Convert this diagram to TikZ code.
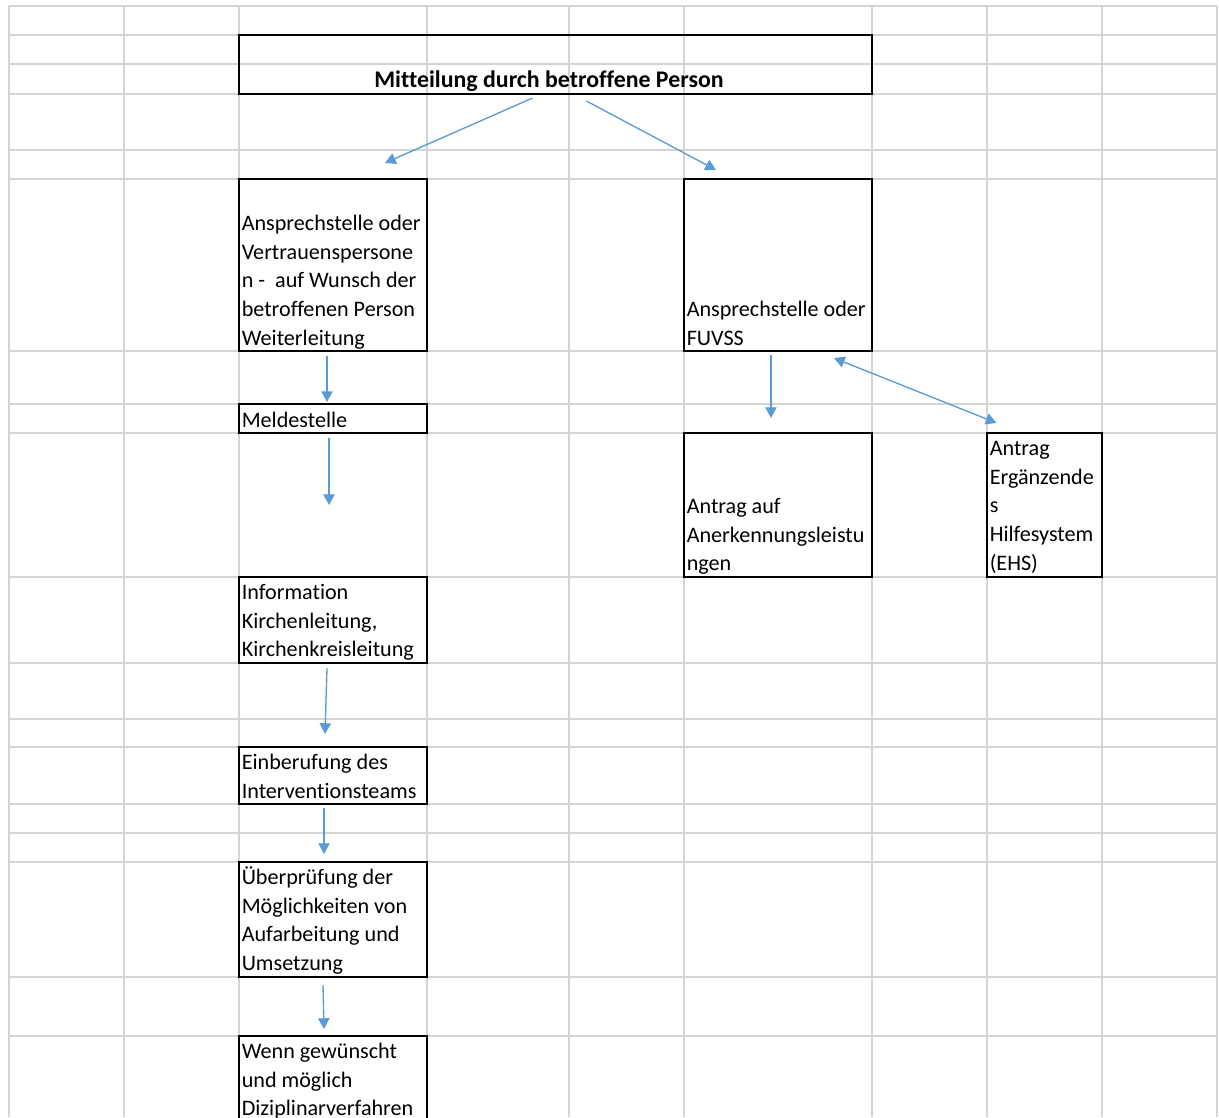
\documentclass[tikz,border=0pt]{standalone}
\usepackage{fontspec}
\setmainfont{Carlito}[Ligatures={NoCommon,NoRequired,NoContextual}]
\usetikzlibrary{arrows.meta,calc}

\definecolor{pfeilblau}{HTML}{5B9BD5}
\definecolor{gitterfarbe}{HTML}{D4D4D4}

\tikzset{
  gitter/.style={draw=gitterfarbe, line width=1.5pt},
  kasten/.style={draw=black, line width=1.6pt, inner sep=0pt},
  txt/.style={font=\fontsize{16.6}{21.5}\selectfont, inner sep=0pt, align=left, anchor=north west},
  pfeil/.style={draw=pfeilblau, line width=1pt, -{Triangle[length=8pt,width=8.5pt]}},
}

\begin{document}
\begin{tikzpicture}[x=0.75pt,y=-0.75pt]
\clip (0,0) rectangle (1219,1117);
\fill[white] (0,0) rectangle (1219,1117);

% Tabellengitter
\draw[gitter] (9,6) -- (9,1117) (124,6) -- (124,1117) (239,6) -- (239,1117)
  (427,6) -- (427,1117) (569,6) -- (569,1117) (684,6) -- (684,1117)
  (872,6) -- (872,1117) (987,6) -- (987,1117) (1102,6) -- (1102,1117)
  (1217,6) -- (1217,1117);
\draw[gitter] (9,6) -- (1217,6) (9,35) -- (1217,35) (9,64) -- (1217,64)
  (9,94) -- (1217,94) (9,150) -- (1217,150) (9,179) -- (1217,179)
  (9,351) -- (1217,351) (9,404) -- (1217,404) (9,433) -- (1217,433)
  (9,577) -- (1217,577) (9,663) -- (1217,663) (9,719) -- (1217,719)
  (9,747) -- (1217,747) (9,804) -- (1217,804) (9,833) -- (1217,833)
  (9,862) -- (1217,862) (9,977) -- (1217,977) (9,1036) -- (1217,1036);

% Kaesten
\node[kasten, minimum width=474.75pt, minimum height=44.25pt] (mitteilung) at (555.5,64.5) {};
\node[kasten, minimum width=141pt, minimum height=129pt] (ansprech) at (333,265) {};
\node[kasten, minimum width=141pt, minimum height=21.75pt] (melde) at (333,418.5) {};
\node[kasten, minimum width=141pt, minimum height=64.5pt] (info) at (333,620) {};
\node[kasten, minimum width=141pt, minimum height=42.75pt] (einberufung) at (333,775.5) {};
\node[kasten, minimum width=141pt, minimum height=86.25pt] (pruefung) at (333,919.5) {};
\node[kasten, minimum width=141pt, minimum height=64.5pt] (wunsch) at (333,1079) {};
\node[kasten, minimum width=141pt, minimum height=129pt] (fuvss) at (778,265) {};
\node[kasten, minimum width=141pt, minimum height=108pt] (antrag) at (778,505) {};
\node[kasten, minimum width=86.25pt, minimum height=108pt] (ehs) at (1044.5,505) {};

% Texte
\node[txt, anchor=base, font=\fontsize{17.9}{21.5}\selectfont\bfseries] (mitteilungtxt) at (549,87) {Mitteilung durch betroffene Person};
\node[txt] (ansprechtxt) at (241.5,210) {\strut Ansprechstelle oder\\Vertrauenspersone\\n - \ auf Wunsch der\\betroffenen Person\\Weiterleitung};
\node[txt] (meldetxt) at (241.5,407) {\strut Meldestelle};
\node[txt] (infotxt) at (241.5,579) {\strut Information\\Kirchenleitung,\\Kirchenkreisleitung};
\node[txt] (einberufungtxt) at (241.5,749) {\strut Einberufung des\\Interventionsteams};
\node[txt] (pruefungtxt) at (241.5,864) {\strut Überprüfung der\\Möglichkeiten von\\Aufarbeitung und\\Umsetzung};
\node[txt] (wunschtxt) at (241.5,1038) {\strut Wenn gewünscht\\und möglich\\Diziplinarverfahren};
\node[txt] (fuvsstxt) at (686.5,296) {\strut Ansprechstelle oder\\FUVSS};
\node[txt] (antragtxt) at (686.5,493) {\strut Antrag auf\\Anerkennungsleistu\\ngen};
\node[txt] (ehstxt) at (989.5,435) {\strut Antrag\\Ergänzende\\s\\Hilfesystem\\(EHS)};

% Pfeile
\coordinate (frei) at (329,505);
\draw[pfeil] ($(mitteilung.south)+(-23,3)$) -- ($(ansprech.north)+(52,-15)$);
\draw[pfeil] ($(mitteilung.south)+(31,6)$) -- ($(fuvss.north)+(-62,-8)$);
\draw[pfeil] ($(ansprech.south)+(-6,4)$) -- ($(melde.north)+(-6,-1)$);
\draw[pfeil] ($(melde.south)+(-4,4)$) -- (frei);
\draw[pfeil] ($(info.south)+(-6,4)$) -- ($(einberufung.north)+(-8,-12)$);
\draw[pfeil] ($(einberufung.south)+(-9,3)$) -- ($(pruefung.north)+(-9,-7)$);
\draw[pfeil] ($(pruefung.south)+(-10,7)$) -- ($(wunsch.north)+(-9,-6)$);
\draw[pfeil] ($(fuvss.south)+(-7,3)$) -- ($(antrag.north)+(-7,-14)$);
\draw[pfeil, {Triangle[length=8pt,width=8.5pt]}-{Triangle[length=8pt,width=8.5pt]}] ($(fuvss.south)+(56,6)$) -- ($(ehs.north)+(-48,-9)$);
\end{tikzpicture}
\end{document}
